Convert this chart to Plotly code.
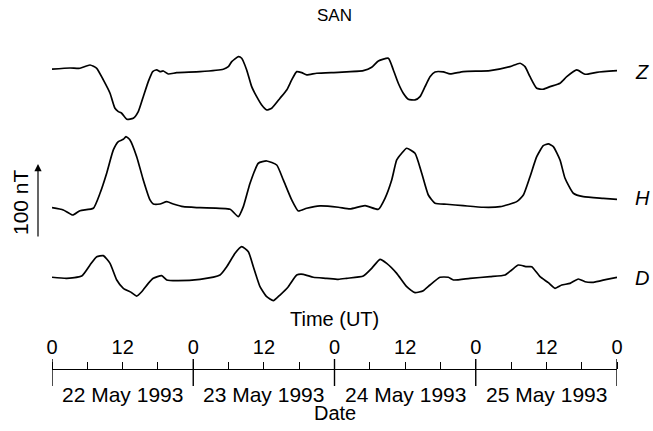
import plotly.graph_objects as go

# ---------------- data (hours since 22 May 1993 00 UT, nT deviations) ----------------
Z_HOURS = [0.0, 3.06, 4.76, 6.46, 7.6, 8.72, 9.86, 10.7, 11.27, 11.84, 12.69, 13.81, 14.66, 15.51,
           16.36, 17.11, 17.79, 18.35, 18.91, 19.76, 21.19, 25.15, 29.11, 29.96, 30.54, 31.66,
           32.23, 33.08, 33.93, 34.78, 35.63, 36.48, 37.33, 38.74, 39.88, 40.73, 41.58, 42.43,
           43.28, 44.98, 48.65, 52.9, 54.32, 55.45, 57.15, 58.0, 58.84, 59.69, 60.54, 61.68,
           62.53, 63.38, 64.23, 65.08, 66.49, 67.63, 69.89, 74.43, 77.82, 79.52, 80.37, 81.22,
           82.36, 83.48, 84.62, 86.32, 87.46, 89.16, 90.57, 92.56, 96.0]
Z_NT = [1, 2.7, 2.3, 6.8, 2.3, -13.7, -31.9, -52.5, -57.1, -59.3, -67.5, -66.2, -57.1, -36.6,
        -16, -2.3, 0, -2.3, -1.4, -5.5, -3.7, -2.3, 1, 4.5, 11.3, 18.2,
        16, 0, -22.9, -36.6, -48, -54.8, -52.5, -38.8, -27.4, -13.7, -2.3, -3.7,
        -6.8, -4.5, -3.2, -1, 3.7, 12.3, 16, 0, -18.2, -31.9, -40.1, -41.1,
        -36.6, -22.9, -9.2, -2.7, -2.7, -5.5, -2.3, -1, 4.5, 9.2, 4.5, -9.2,
        -25.1, -26.4, -22.9, -18.2, -9.2, 0, -5.9, -3.2, -1]

H_HOURS = [0.0, 1.92, 3.52, 4.76, 7.02, 8.16, 9.29, 10.42, 11.27, 12.12, 12.57, 13.25, 14.39,
           15.51, 16.65, 17.21, 18.35, 19.49, 20.61, 22.31, 25.15, 30.25, 31.66, 32.51, 33.65,
           35.06, 36.48, 38.18, 39.3, 40.73, 41.85, 43.28, 45.54, 48.65, 50.64, 53.19, 55.45,
           56.58, 57.72, 58.57, 59.42, 60.27, 61.68, 62.82, 63.94, 65.08, 67.07, 69.89, 73.29,
           76.13, 78.96, 80.09, 81.22, 82.36, 83.48, 84.33, 85.18, 86.32, 87.17, 88.58, 90.28,
           93.68, 96.0]
H_NT = [-1, -4.1, -11, -5.1, -1.8, 18.8, 46.2, 78.1, 89.5, 92.7, 96.3, 91.8, 68.9,
        37, 9.6, 4.1, 4.1, 7.3, 4.1, 0.4, -1, -3.2, -13.3, 0.4, 32.5,
        59.9, 63, 57.5, 37, 9.6, -5.5, -1.8, 1.4, -0.4, -2.7, 1.8, -3.2,
        11.9, 37, 64.4, 73.6, 80.4, 73.6, 46.2, 16.4, 5.1, 3.7, 1.8, -0.4,
        0.4, 7.3, 16.4, 41.5, 68.9, 84, 86.3, 82.6, 64.4, 39.3, 18.8, 14.1,
        11.9, 10.5]

D_HOURS = [0.0, 2.5, 5.05, 6.46, 7.6, 8.72, 9.86, 11.0, 12.12, 13.54, 14.39, 15.24, 16.36,
           17.21, 18.64, 19.49, 21.19, 25.15, 28.55, 29.69, 31.1, 32.23, 33.36, 34.21, 35.34,
           36.48, 37.6, 38.74, 40.15, 41.58, 42.7, 44.4, 46.68, 48.65, 50.08, 52.9, 54.32,
           55.73, 56.87, 58.57, 60.27, 61.68, 63.09, 64.23, 65.93, 67.34, 68.2, 71.03, 74.43,
           76.98, 78.11, 79.24, 80.66, 81.51, 82.92, 84.33, 85.47, 86.61, 88.02, 89.43, 90.57,
           91.98, 94.26, 96.0]
D_NT = [1, -0.4, 2.7, 17.8, 29.2, 30.6, 20.1, -2.7, -14.1, -20.1, -24.7, -18.8, -7.3,
        -0.4, 3.2, -2.7, -3.7, -1.8, 4.1, 15.5, 33.8, 42.9, 36, 15.5, -11.9,
        -25.6, -31.1, -23.3, -11.9, 4.1, 5.1, 1, -0.4, -1.8, -0.4, 2.7, 13.3,
        25.6, 20.1, 6.4, -11.9, -20.1, -17.4, -9.6, 1, 1, -2.7, -0.4, 1.8,
        4.1, 11, 17.8, 15.5, 15.5, 1.8, -6.4, -14.1, -9.6, -7.3, -1.4, -5.1,
        -5.9, -1.8, 1]

COMPONENTS = ["Z", "H", "D"]
TICK_HOURS = [0, 12, 24, 36, 48, 60, 72, 84, 96]
TICK_LABELS = ["0", "12", "0", "12", "0", "12", "0", "12", "0"]
DAY_BOUNDS = [0, 24, 48, 72, 96]
DATE_CENTERS = [12, 36, 60, 84]
DATE_LABELS = ["22 May 1993", "23 May 1993", "24 May 1993", "25 May 1993"]
SCALE_NT = 100

# ---------------- layout helpers ----------------
W, HGT = 653, 431
ML, MR = 52, 36
K = 100 / 73.0            # nT per pixel
OFFSETS = {"Z": 285.0, "H": 97.3, "D": 0.0}   # stacking offsets (nT)
FONT = "Liberation Sans, Arial, sans-serif"
FS = 20


def py(p):
    return 1 - p / HGT


def px(p):
    return (p - ML) / (W - ML - MR)


def txt(x, y, text, size=FS, xref="paper", **kw):
    d = dict(x=x, xref=xref, y=y, yref="paper", text=text, showarrow=False,
             xanchor="center", yanchor="middle",
             font=dict(size=size, family=FONT, color="black"))
    d.update(kw)
    return d


fig = go.Figure()
series = {"Z": (Z_HOURS, Z_NT), "H": (H_HOURS, H_NT), "D": (D_HOURS, D_NT)}
for name in COMPONENTS:
    hx, vals = series[name]
    fig.add_trace(go.Scatter(x=hx, y=[v + OFFSETS[name] for v in vals], mode="lines",
                             line=dict(color="black", width=1.7, shape="spline",
                                       smoothing=0.5),
                             showlegend=False, xaxis="x", yaxis="y"))

# dummy trace for the bottom time axis
fig.add_trace(go.Scatter(x=[0, 96], y=[0, 0], mode="lines", line=dict(width=0),
                         showlegend=False, xaxis="x2", yaxis="y2", hoverinfo="skip"))

annotations = []
for name, ypx in zip(COMPONENTS, [72, 198, 278]):
    annotations.append(txt(px(633), py(ypx), "<i>" + name + "</i>", size=FS,
                           xanchor="left"))
for c, lab in zip(DATE_CENTERS, DATE_LABELS):
    annotations.append(txt(c, py(394), lab, xref="x2", size=FS + 1))
arrow_tail_y = py(238)
arrow_head_y = py(164)
annotations += [
    txt(0.5, py(15), "SAN", size=17),
    txt(0.5, py(319), "Time (UT)"),
    txt(0.5, py(413), "Date"),
    txt(px(20), py(202), "100 nT", size=FS + 1, textangle=-90),
    dict(x=px(38), xref="paper", y=arrow_head_y, yref="paper",
         ax=0, ay=(arrow_head_y - arrow_tail_y) * HGT,
         text="", showarrow=True, arrowhead=2, arrowsize=1.2,
         arrowwidth=1.2, arrowcolor="black"),
]

shapes = [dict(type="line", xref="x2", yref="paper", x0=d, x1=d, y0=py(386), y1=py(359),
               line=dict(color="black", width=1.4)) for d in DAY_BOUNDS]

fig.update_layout(
    width=W, height=HGT,
    margin=dict(l=ML, r=MR, t=0, b=0, autoexpand=False),
    paper_bgcolor="white", plot_bgcolor="white",
    xaxis=dict(range=[0, 96], visible=False, domain=[0, 1]),
    yaxis=dict(range=[(278 - 322) * K, (278 - 30) * K], visible=False,
               domain=[py(322), py(30)]),
    xaxis2=dict(range=[0, 96], anchor="y2", side="top", showline=True, linecolor="black",
                linewidth=1.4, ticks="outside", ticklen=7, tickwidth=1.2, tickcolor="black",
                tickvals=TICK_HOURS, ticktext=TICK_LABELS, showgrid=False, zeroline=False,
                tickfont=dict(size=FS, family=FONT, color="black"),
                minor=dict(dtick=6, tick0=0, ticks="outside", ticklen=7, tickwidth=1.2,
                           tickcolor="black", showgrid=False)),
    yaxis2=dict(range=[0, 1], visible=False, domain=[0, py(370)]),
    annotations=annotations,
    shapes=shapes,
)

fig.write_html("out.html", config={"displayModeBar": False},
               post_script="document.body.style.margin='0';document.body.style.padding='0';")
